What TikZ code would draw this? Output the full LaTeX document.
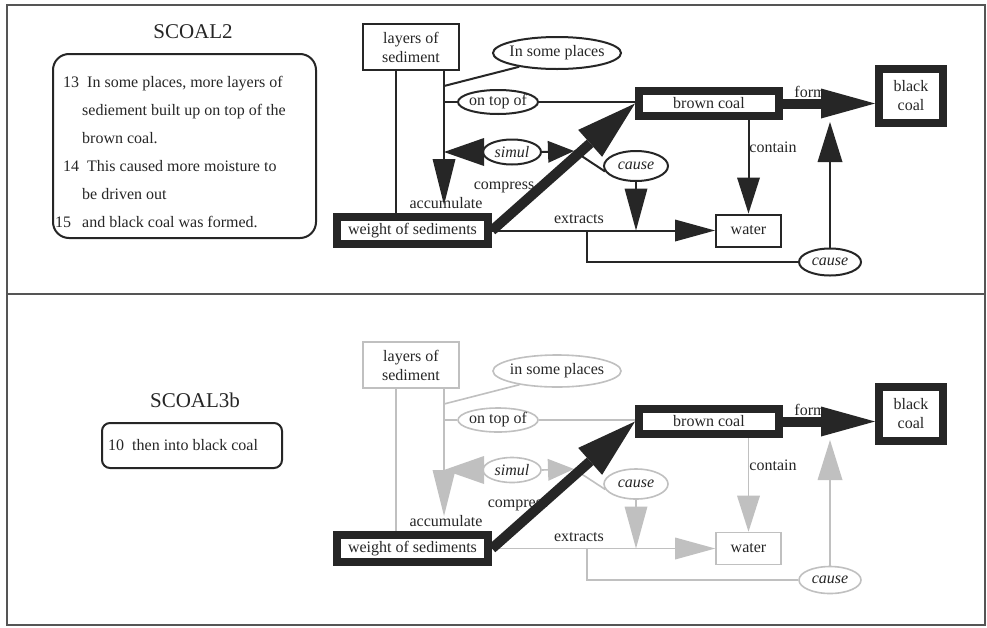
\documentclass[tikz,border=0pt]{standalone}
\usepackage{fontspec}
\setmainfont{Liberation Serif}
\usetikzlibrary{arrows.meta,shapes.geometric}

\definecolor{ink}{RGB}{38,38,38}
\definecolor{framec}{RGB}{85,85,85}
\definecolor{fade}{RGB}{192,192,192}

\tikzset{
  heading/.style={font=\fontsize{21}{24}\selectfont, text=ink, inner sep=0pt},
  lbl/.style={font=\fontsize{16}{18}\selectfont, text=ink, inner sep=0pt},
  plainbox/.style={rectangle, inner sep=0pt, align=center, text=ink,
    font=\fontsize{16}{19}\selectfont},
  heavybox/.style={plainbox, draw=ink, line width=8pt},
  oval/.style={ellipse, inner sep=0pt, text=ink, font=\fontsize{16}{18}\selectfont},
  link/.style={draw=ink, line width=2pt},
  bigarrow/.style={draw=ink, line width=10pt},
  headed/.style args={#1/#2}{-{Triangle[length=#1pt,width=#2pt,line width=0pt]}},
  textframe/.style={draw=ink, line width=2pt, inner sep=0pt},
  storytext/.style={inner sep=0pt, align=left, text=ink,
    font=\fontsize{16}{28}\selectfont},
}

% One concept map: #1 = text of the place qualifier, #2 = x of the "compress" label,
% #3 = y where the "accumulate" arrow ends
\newcommand\coalmap[3]{%
  \node[plainbox, link, minimum width=96pt, minimum height=46pt] (lay) at (411,47) {layers of\\sediment};
  \node[oval, link, minimum width=128pt, minimum height=32pt] (isp) at (557,53) {\makebox[0pt]{#1}};
  \node[oval, link, minimum width=80pt, minimum height=24pt] (otp) at (498,102) {\makebox[0pt]{on top of}};
  \node[oval, link, minimum width=58pt, minimum height=25pt] (sim) at (512,152) {\makebox[0pt]{\itshape simul}};
  \node[oval, link, minimum width=64pt, minimum height=30pt] (ca1) at (636,166) {\makebox[0pt]{\itshape cause}};
  \node[oval, link, minimum width=62pt, minimum height=27pt] (ca2) at (830,262) {\makebox[0pt]{\itshape cause}};
  \node[heavybox, minimum width=151pt, minimum height=27pt] (wt) at (412.5,230.5) {weight of sediments};
  \node[heavybox, minimum width=140pt, minimum height=25pt] (bc) at (709,103.5) {brown coal};
  \node[heavybox, minimum width=64pt, minimum height=54pt] (blk) at (911,96) {black\\coal};
  \node[plainbox, link, minimum width=65pt, minimum height=32pt] (wat) at (748.5,230.5) {water};
  \coordinate (vl) at (396,0);
  \coordinate (acc) at (444,#3);
  \coordinate (j1) at (444,86);
  \coordinate (cj) at (574,151);
  \coordinate (ext) at (587,230.5);
  \coordinate (fj) at (830,122);
  \node[lbl] (lacc) at (446,203) {accumulate};
  \node[lbl] (lcmp) at (#2,187) {compress};
  \node[lbl] (lext) at (579,219) {extracts};
  \node[lbl] (lcon) at (773,147) {contain};
  \node[lbl] (lfrm) at (810,92) {form};
  \draw[link] (lay.south -| vl) -- (wt.north -| vl);
  \draw[link, headed=46/23] (lay.south -| acc) -- (acc);
  \draw[link] (j1) -- (isp.200);
  \draw[link] (otp.west -| acc) -- (otp.west);
  \draw[link] (otp.east) -- (otp.east -| bc.west);
  \draw[link, headed=40/28] (sim.west) -- (sim.west -| acc);
  \draw[link, headed=26/22] (sim.east) -- (cj);
  \draw[link] (cj) -- (ca1.190);
  \draw[link, headed=42/23] (ca1.south) -- (ca1.south |- ext);
  \draw[link, headed=40/22] (wt.east) -- (wat.west);
  \draw[link] (ext) |- (ca2.west);
  \draw[link, headed=40/25] (ca2.north) -- (fj);
  \draw[link, headed=36/23] (wat.north |- bc.south) -- (wat.north);
  \draw[bigarrow, headed=60/36] (wt.east) -- (bc.west);
  \draw[bigarrow, headed=54/30] (bc.east) -- (bc.east -| blk.west);
}

\begin{document}
\begin{tikzpicture}[x=1pt,y=-1pt]
\useasboundingbox (0,0) rectangle (987,627);
\fill[white] (0,0) rectangle (987,627);
\draw[framec, line width=2pt] (7,5) rectangle (985,625);
\draw[framec, line width=2pt] (7,294) -- (985,294);

% upper panel
\node[heading] (hd1) at (193,32) {SCOAL2};
\node[textframe, rounded corners=16pt, minimum width=263pt, minimum height=184pt] (sf1) at (184.5,146) {};
\node[storytext, anchor=north west] (st1) at (63,76) {%
  \makebox[24pt][l]{13}In some places, more layers of\\
  \hspace*{19pt}sediement built up on top of the\\
  \hspace*{19pt}brown coal.\\
  \makebox[24pt][l]{14}This caused more moisture to\\
  \hspace*{19pt}be driven out\\
  \hspace*{-8pt}\makebox[27pt][l]{15}and black coal was formed.};
\begin{scope}[name prefix=u-]
  \coalmap{In some places}{504}{205}
\end{scope}

% lower panel
\node[heading] (hd2) at (195,400) {SCOAL3b};
\node[textframe, rounded corners=8pt, minimum width=180pt, minimum height=45pt] (sf2) at (192,445.5) {};
\node[storytext, anchor=west] (st2) at (108,445) {\makebox[24pt][l]{10}then into black coal};
\begin{scope}[name prefix=l-, shift={(0,318)}, link/.style={draw=fade, line width=1.6pt}]
  \coalmap{in some places}{518}{198}
\end{scope}
\end{tikzpicture}
\end{document}
